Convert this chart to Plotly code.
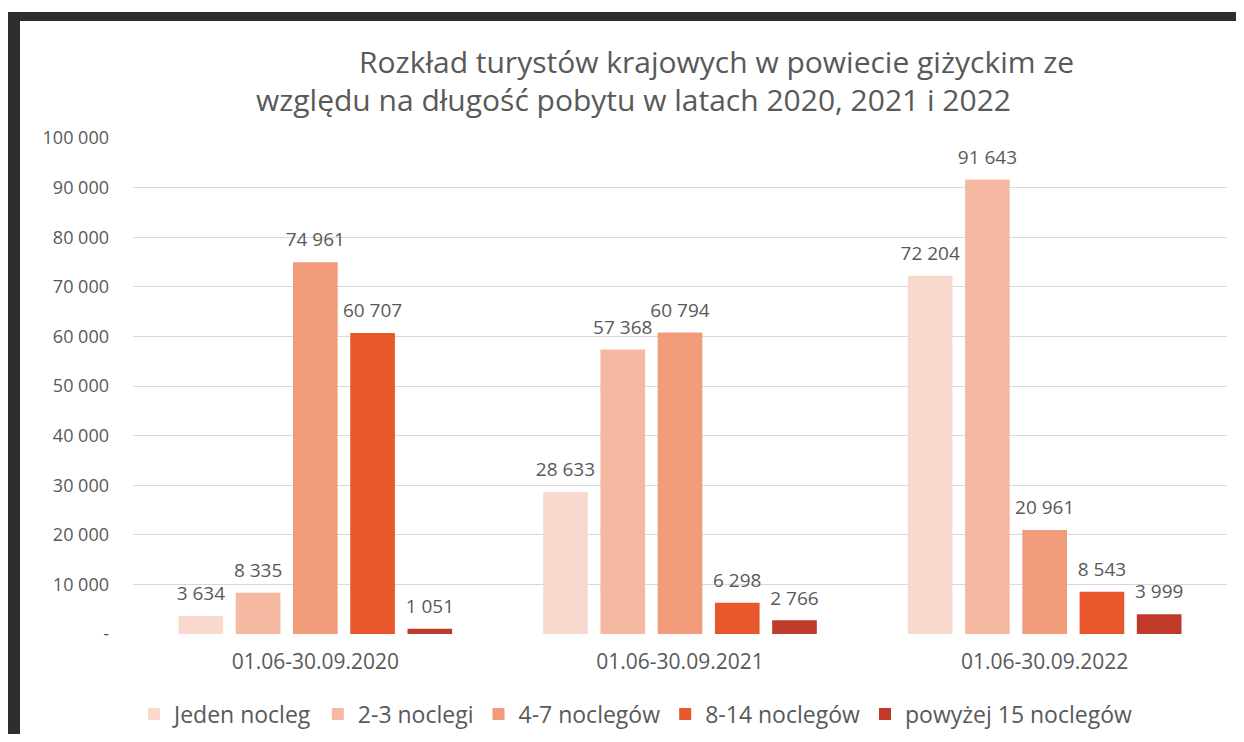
import plotly.graph_objects as go

categories = ["01.06-30.09.2020", "01.06-30.09.2021", "01.06-30.09.2022"]
series_names = ["Jeden nocleg", "2-3 noclegi", "4-7 noclegów", "8-14 noclegów", "powyżej 15 noclegów"]
jeden = [3634, 28633, 72204]
dwa_trzy = [8335, 57368, 91643]
cztery_siedem = [74961, 60794, 20961]
osiem_czternascie = [60707, 6298, 8543]
powyzej_15 = [1051, 2766, 3999]
colors = ["#F9D9CE", "#F5B9A1", "#F09B7A", "#E8572A", "#BF3A2B"]
ytick_vals = [0, 10000, 20000, 30000, 40000, 50000, 60000, 70000, 80000, 90000, 100000]
ytick_text = ["-", "10 000", "20 000", "30 000", "40 000", "50 000", "60 000", "70 000", "80 000", "90 000", "100 000"]
title_line1 = "Rozkład turystów krajowych w powiecie giżyckim ze"
title_line2 = "względu na długość pobytu w latach 2020, 2021 i 2022"

FONT = "Open Sans"
GRAY = "#595959"

all_series = [jeden, dwa_trzy, cztery_siedem, osiem_czternascie, powyzej_15]

fig = go.Figure()
for name, vals, col in zip(series_names, all_series, colors):
    fig.add_trace(go.Bar(
        x=categories, y=vals, name=name, marker=dict(color=col, line=dict(width=0)),
        hoverinfo="x+y+name",
    ))
# value labels (grouped scatter text aligned with the bars)
for name, vals in zip(series_names, all_series):
    fig.add_trace(go.Scatter(
        x=categories, y=vals, mode="markers+text", showlegend=False, hoverinfo="skip",
        texttemplate="%{y:,}", textposition="top center", cliponaxis=False,
        marker=dict(size=16, color="rgba(0,0,0,0)"),
        textfont=dict(family=FONT, size=19, color=GRAY),
    ))

# page body has an 8px margin; figure coordinates = screen coordinates - 8
W, H = 1228, 726
L, R, T, B = 125, 9, 130, 100
pw, ph = W - L - R, H - T - B

def px(x):
    return (x - L) / pw

def py(y):
    return (H - B - y) / ph

dark = "#2e2e2e"
shapes = [
    dict(type="rect", xref="paper", yref="paper", x0=px(-1), x1=px(W), y0=py(4), y1=py(13),
         fillcolor=dark, line=dict(width=0), layer="below"),
    dict(type="rect", xref="paper", yref="paper", x0=px(-1), x1=px(12), y0=py(4), y1=py(H),
         fillcolor=dark, line=dict(width=0), layer="below"),
]

annotations = [
    dict(text=title_line1, xref="paper", yref="paper", x=px(708), y=py(54), showarrow=False,
         xanchor="center", yanchor="middle", font=dict(family=FONT, size=30, color=GRAY)),
    dict(text=title_line2, xref="paper", yref="paper", x=px(625), y=py(92), showarrow=False,
         xanchor="center", yanchor="middle", font=dict(family=FONT, size=30, color=GRAY)),
]

fig.update_layout(
    width=W, height=H,
    margin=dict(l=L, r=R, t=T, b=B, autoexpand=False),
    paper_bgcolor="white", plot_bgcolor="white",
    separators=", ",
    barmode="group", bargap=0.215, bargroupgap=0.22,
    scattermode="group", scattergap=0.215,
    shapes=shapes, annotations=annotations,
    font=dict(family=FONT, color=GRAY),
    legend=dict(orientation="h", x=px(628), xanchor="center", y=py(706), yanchor="middle",
                font=dict(family=FONT, size=23, color=GRAY), itemwidth=30, traceorder="normal"),
    xaxis=dict(showgrid=False, showline=False, ticks="", automargin=False,
               tickfont=dict(family=FONT, size=21, color=GRAY), ticklabelstandoff=13),
    yaxis=dict(range=[0, 100000], tickvals=ytick_vals, ticktext=ytick_text, automargin=False,
               showgrid=True, gridcolor="#D9D9D9", gridwidth=1, zeroline=False, showline=False,
               tickfont=dict(family=FONT, size=18, color=GRAY), ticklabelstandoff=23),
)

fig.write_html("out.html")
